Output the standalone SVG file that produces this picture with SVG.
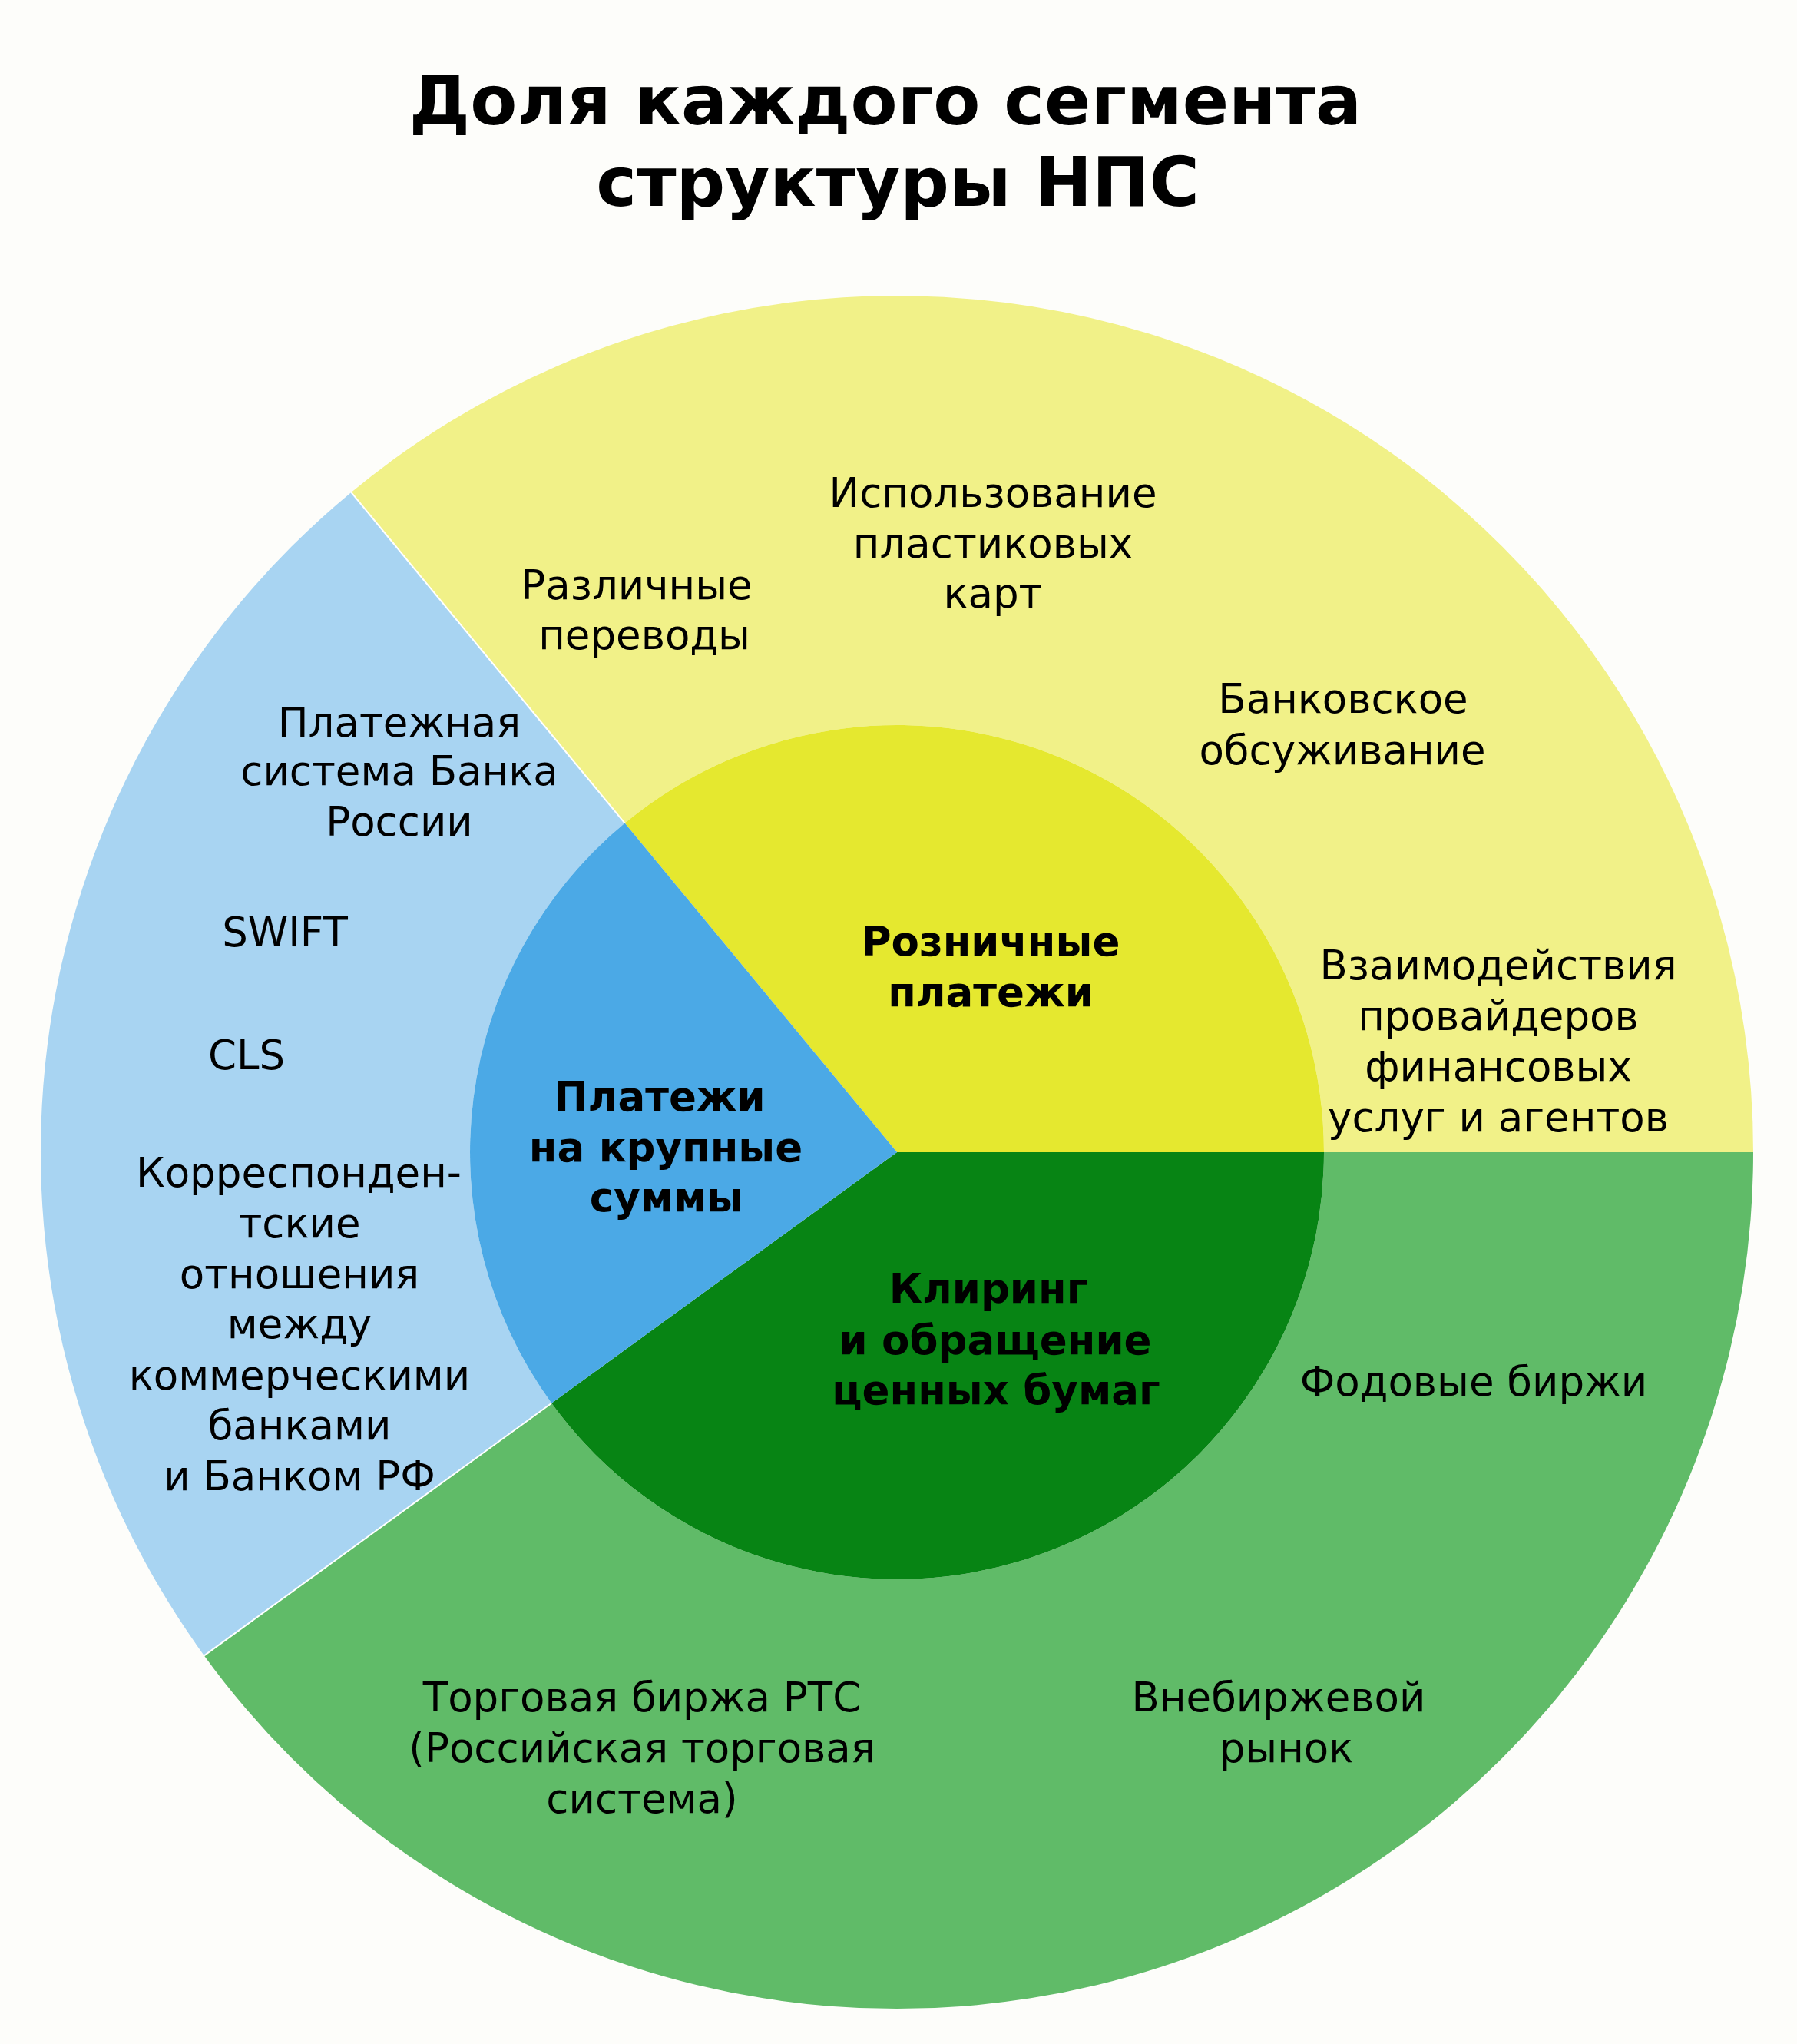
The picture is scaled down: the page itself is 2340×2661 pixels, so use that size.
<svg xmlns="http://www.w3.org/2000/svg" width="2340" height="2661" viewBox="0 0 2340 2661">
<style>
.t{font-family:"DejaVu Sans","Verdana",sans-serif;fill:#000;text-anchor:middle}
.title{font-size:89px;font-weight:bold}
.lbl{font-size:53px}
.in{font-size:53px;font-weight:bold}
.sep{stroke:#ffffff;stroke-width:2;fill:none}
</style>
<rect width="2340" height="2661" fill="#FDFDFA"/>
<g id="title">
<text class="t title" x="1153" y="162">Доля каждого сегмента</text>
<text class="t title" x="1169" y="268">структуры НПС</text>
</g>
<g id="outer-yellow">
<path d="M457.3,640.9 A1115,1115 0 0 1 2283,1500 L1724,1500 A556,556 0 0 0 813.6,1071.6 Z" fill="#F1F188"/>
<text class="t lbl" x="1293" y="660">Использование</text>
<text class="t lbl" x="1293" y="726">пластиковых</text>
<text class="t lbl" x="1293" y="791">карт</text>
<text class="t lbl" x="829" y="780">Различные</text>
<text class="t lbl" x="839" y="845">переводы</text>
<text class="t lbl" x="1749" y="928">Банковское</text>
<text class="t lbl" x="1748" y="995">обсуживание</text>
<text class="t lbl" x="1951" y="1275">Взаимодействия</text>
<text class="t lbl" x="1951" y="1341">провайдеров</text>
<text class="t lbl" x="1951" y="1407">финансовых</text>
<text class="t lbl" x="1951" y="1473">услуг и агентов</text>
</g>
<g id="outer-green">
<path d="M2283,1500 A1115,1115 0 0 1 265.9,2155.4 L718.2,1826.8 A556,556 0 0 0 1724,1500 Z" fill="#60BB68"/>
<text class="t lbl" x="1919" y="1817">Фодовые биржи</text>
<text class="t lbl" x="836" y="2228">Торговая биржа РТС</text>
<text class="t lbl" x="836" y="2294">(Российская торговая</text>
<text class="t lbl" x="836" y="2360">система)</text>
<text class="t lbl" x="1665" y="2228">Внебиржевой</text>
<text class="t lbl" x="1675" y="2294">рынок</text>
</g>
<g id="outer-blue">
<path d="M265.9,2155.4 A1115,1115 0 0 1 457.3,640.9 L813.6,1071.6 A556,556 0 0 0 718.2,1826.8 Z" fill="#A8D4F2"/>
<text class="t lbl" x="520" y="959">Платежная</text>
<text class="t lbl" x="520" y="1022">система Банка</text>
<text class="t lbl" x="520" y="1088">России</text>
<text class="t lbl" x="371" y="1232">SWIFT</text>
<text class="t lbl" x="321" y="1392">CLS</text>
<text class="t lbl" x="389" y="1545">Корреспонден-</text>
<text class="t lbl" x="390" y="1611">тские</text>
<text class="t lbl" x="390" y="1677">отношения</text>
<text class="t lbl" x="390" y="1742">между</text>
<text class="t lbl" x="390" y="1809">коммерческими</text>
<text class="t lbl" x="390" y="1874">банками</text>
<text class="t lbl" x="390" y="1940">и Банком РФ</text>
</g>
<g id="connectors">
<line class="sep" x1="813.6" y1="1071.6" x2="457.3" y2="640.9"/>
<line class="sep" x1="718.2" y1="1826.8" x2="265.9" y2="2155.4"/>
</g>
<g id="inner-yellow">
<path d="M1168,1500 L813.6,1071.6 A556,556 0 0 1 1724,1500 Z" fill="#E5E82F"/>
<text class="t in" x="1290" y="1244">Розничные</text>
<text class="t in" x="1290" y="1310">платежи</text>
</g>
<g id="inner-green">
<path d="M1168,1500 L1724,1500 A556,556 0 0 1 718.2,1826.8 Z" fill="#078414"/>
<text class="t in" x="1287" y="1696">Клиринг</text>
<text class="t in" x="1296" y="1763">и обращение</text>
<text class="t in" x="1297" y="1828">ценных бумаг</text>
</g>
<g id="inner-blue">
<path d="M1168,1500 L718.2,1826.8 A556,556 0 0 1 813.6,1071.6 Z" fill="#4BA9E6"/>
<text class="t in" x="859" y="1446">Платежи</text>
<text class="t in" x="867" y="1512">на крупные</text>
<text class="t in" x="868" y="1577">суммы</text>
</g>
</svg>
